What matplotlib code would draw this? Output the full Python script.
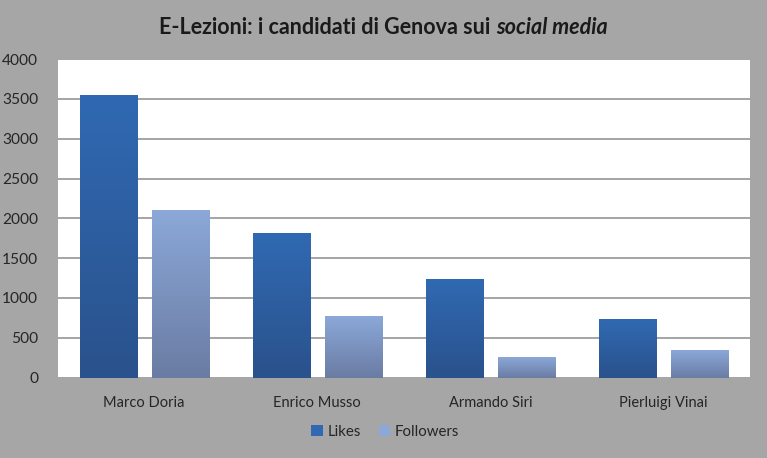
#import libraries
import matplotlib.pyplot as plt
import matplotlib.colors as mcolors
import numpy as np

#Data Definition
candidati = ['Marco Doria', 'Enrico Musso', 'Armando Siri', 'Pierluigi Vinai']
likes = [3550, 1820, 1240, 730]
followers = [2100, 770, 255, 350]
yticks = [0, 500, 1000, 1500, 2000, 2500, 3000, 3500, 4000]

plt.rcParams['font.family'] = ['Lato', 'DejaVu Sans']

#Create Figure
bg = '#a6a6a6'
fig = plt.figure(figsize=(7.67, 4.58), dpi=100, facecolor=bg)
ax = fig.add_axes([0.0752, 0.1755, 0.9026, 0.6955])
ax.set_facecolor('white')

x = np.arange(len(candidati))
w = 0.33
off = 0.208

def gradient_bars(xpos, vals, top, bottom, label):
    bars = ax.bar(xpos, vals, w, color=top, label=label, zorder=3)
    cmap = mcolors.LinearSegmentedColormap.from_list('g', [bottom, top])
    grad = np.linspace(0, 1, 100).reshape(-1, 1)
    for b in bars:
        x0, y0 = b.get_x(), b.get_y()
        im = ax.imshow(grad, cmap=cmap, origin='lower', aspect='auto',
                       extent=[x0, x0 + b.get_width(), y0, y0 + b.get_height()],
                       zorder=3.5)
        im.set_clip_path(b)
    return bars

gradient_bars(x - off, likes, '#3069b2', '#2a528c', 'Likes')
gradient_bars(x + off, followers, '#8ba8d8', '#6a7ca3', 'Followers')

#Modify figure's appearance
ax.set_xlim(-0.5, len(candidati) - 0.5)
ax.set_ylim(0, 4000)
ax.set_yticks(yticks)
ax.set_xticks(x)
ax.set_xticklabels(candidati)
ax.tick_params(length=0, colors='#262626')
ax.tick_params(axis='x', pad=13, labelsize=10.5)
ax.tick_params(axis='y', pad=14, labelsize=11.2)
ax.grid(axis='y', color='#8c8c8c', linewidth=1.1, zorder=1)
for s in ax.spines.values():
    s.set_visible(False)

leg = fig.legend(loc='center', bbox_to_anchor=(0.502, 0.057), ncol=2, frameon=False,
                 fontsize=10.8, handlelength=0.75, handleheight=0.75,
                 handletextpad=0.3, columnspacing=1.2)
for t in leg.get_texts():
    t.set_color('#262626')

#Title: plain part + italic part, centered together
r = fig.canvas.get_renderer()
t1 = fig.text(0, 0.94, 'E-Lezioni: i candidati di Genova sui ', fontsize=15.5,
              fontweight='bold', color='#1a1a1a', va='center')
t2 = fig.text(0, 0.94, 'social media', fontsize=15.5, fontweight='bold',
              fontstyle='italic', color='#1a1a1a', va='center')
w1 = t1.get_window_extent(r).width / fig.bbox.width
w2 = t2.get_window_extent(r).width / fig.bbox.width
start = 0.5 - (w1 + w2) / 2
t1.set_x(start)
t2.set_x(start + w1)

#Show/Save Plot
plt.savefig('out.png', dpi=100, facecolor=bg)
